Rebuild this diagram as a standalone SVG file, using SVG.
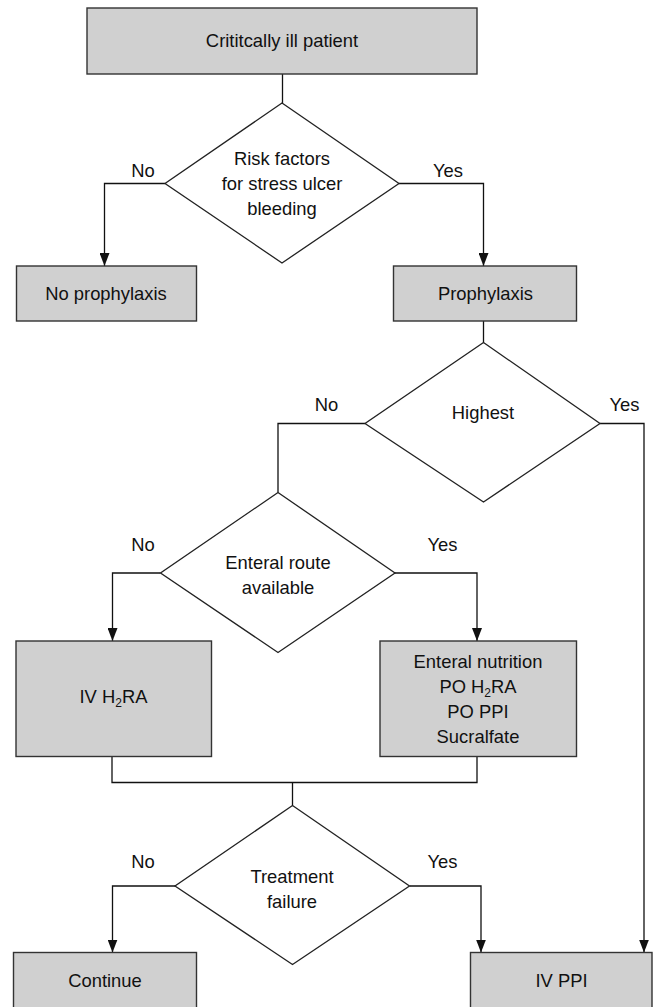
<svg xmlns="http://www.w3.org/2000/svg" width="654" height="1007" viewBox="0 0 654 1007">
<style>
.box{fill:#d0d0d0;stroke:#333;stroke-width:1.4}
.dia{fill:#fff;stroke:#222;stroke-width:1.3}
.con{fill:none;stroke:#111;stroke-width:1.3}
text{font-family:"Liberation Sans",Arial,sans-serif;font-size:18.4px;fill:#111;text-anchor:middle}
.sub{font-size:12px}
</style>
<defs>
<marker id="arr" markerUnits="userSpaceOnUse" markerWidth="13" markerHeight="10" refX="13" refY="5" orient="auto" viewBox="0 0 13 10">
<path d="M0,0 L13,5 L0,10 z" fill="#111"/>
</marker>
</defs>
<rect width="654" height="1007" fill="#fff"/>
<g id="connectors">
<path class="con" d="M282.5,74 V103"/>
<path class="con" d="M165,183.5 H104.5 V266" marker-end="url(#arr)"/>
<path class="con" d="M399,183.5 H483.5 V266" marker-end="url(#arr)"/>
<path class="con" d="M483.5,321 V342.5"/>
<path class="con" d="M365,423.5 H278 V492.5"/>
<path class="con" d="M600,423.5 H644 V952.5" marker-end="url(#arr)"/>
<path class="con" d="M160.5,573 H112.5 V641" marker-end="url(#arr)"/>
<path class="con" d="M395,573 H477 V641" marker-end="url(#arr)"/>
<path class="con" d="M112,756.5 V782.5 H477 V756.5"/>
<path class="con" d="M292.5,782.5 V805.5"/>
<path class="con" d="M175,886 H112.5 V952.5" marker-end="url(#arr)"/>
<path class="con" d="M409.5,886 H481 V952.5" marker-end="url(#arr)"/>
<text x="143" y="177">No</text>
<text x="448" y="177">Yes</text>
<text x="326.5" y="411">No</text>
<text x="624.5" y="411">Yes</text>
<text x="143" y="551">No</text>
<text x="442.5" y="551">Yes</text>
<text x="143" y="868">No</text>
<text x="442.5" y="868">Yes</text>
</g>
<g id="critically-ill">
<rect class="box" x="87" y="8" width="390" height="66"/>
<text x="282" y="47">Crititcally ill patient</text>
</g>
<g id="risk-factors">
<polygon class="dia" points="282,103 399,183.5 282,263 165,183.5"/>
<text x="282" y="164.5">Risk factors</text>
<text x="282" y="189.5">for stress ulcer</text>
<text x="282" y="214.5">bleeding</text>
</g>
<g id="no-prophylaxis">
<rect class="box" x="16.5" y="266" width="180" height="55"/>
<text x="106" y="300">No prophylaxis</text>
</g>
<g id="prophylaxis">
<rect class="box" x="393.5" y="266" width="183" height="55"/>
<text x="485.5" y="300">Prophylaxis</text>
</g>
<g id="highest">
<polygon class="dia" points="483.5,342.5 600,423.5 483.5,502 365,423.5"/>
<text x="483" y="419">Highest</text>
</g>
<g id="enteral-route">
<polygon class="dia" points="278,492.5 395,573 278,652.5 160.5,573"/>
<text x="278" y="569">Enteral route</text>
<text x="278" y="594">available</text>
</g>
<g id="iv-h2ra">
<rect class="box" x="16" y="641" width="195.5" height="115.5"/>
<text x="113.5" y="703">IV H<tspan class="sub" dy="4">2</tspan><tspan dy="-4">RA</tspan></text>
</g>
<g id="enteral-options">
<rect class="box" x="380" y="641" width="196.5" height="115.5"/>
<text x="478" y="668">Enteral nutrition</text>
<text x="478" y="693">PO H<tspan class="sub" dy="4">2</tspan><tspan dy="-4">RA</tspan></text>
<text x="478" y="718">PO PPI</text>
<text x="478" y="743">Sucralfate</text>
</g>
<g id="treatment-failure">
<polygon class="dia" points="292.5,805.5 409.5,886 292.5,964.5 175,886"/>
<text x="292" y="882.5">Treatment</text>
<text x="292" y="907.5">failure</text>
</g>
<g id="continue">
<rect class="box" x="13.5" y="952.5" width="183" height="60"/>
<text x="105" y="986.5">Continue</text>
</g>
<g id="iv-ppi">
<rect class="box" x="470.5" y="952.5" width="181.5" height="60"/>
<text x="561.5" y="987">IV PPI</text>
</g>
</svg>
